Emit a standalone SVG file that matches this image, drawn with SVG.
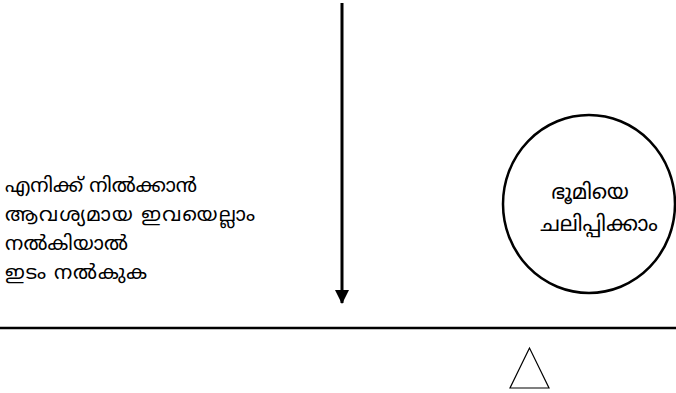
<svg xmlns="http://www.w3.org/2000/svg" width="676" height="393" viewBox="0 0 676 393">
<defs>
<style>
text{font-family:"Noto Sans Malayalam","Noto Sans","DejaVu Sans",sans-serif;font-size:20px;fill:#000}
.c{font-size:21px;text-anchor:middle}
.ln{stroke:#000;fill:none}
</style>
<marker id="ah" markerWidth="14" markerHeight="14" refX="13" refY="7" orient="auto" markerUnits="userSpaceOnUse">
<path d="M0,0 L14,7 L0,14 Z" fill="#000"/>
</marker>
</defs>
<rect width="676" height="393" fill="#fff"/>
<g id="connectors">
<line class="ln" x1="342" y1="3" x2="342" y2="303" stroke-width="3" marker-end="url(#ah)"/>
</g>
<g id="ground">
<line class="ln" x1="0" y1="328" x2="676" y2="328" stroke-width="2.5"/>
</g>
<g id="fulcrum">
<polygon class="ln" points="529.5,348 510,388 549,388" stroke-width="1.2"/>
</g>
<g id="left-text">
<text x="5" y="192" textLength="192">എനിക്ക് നിൽക്കാൻ</text>
<text x="5" y="221" textLength="250">ആവശ്യമായ ഇവയെല്ലാം</text>
<text x="5" y="250" textLength="123">നൽകിയാൽ</text>
<text x="5" y="279" textLength="142">ഇടം നൽകുക</text>
</g>
<g id="circle-node">
<ellipse class="ln" cx="589" cy="204" rx="86" ry="89" stroke-width="2.5"/>
<text class="c" x="590" y="199">ഭൂമിയെ</text>
<text class="c" x="599" y="231">ചലിപ്പിക്കാം</text>
</g>
</svg>
